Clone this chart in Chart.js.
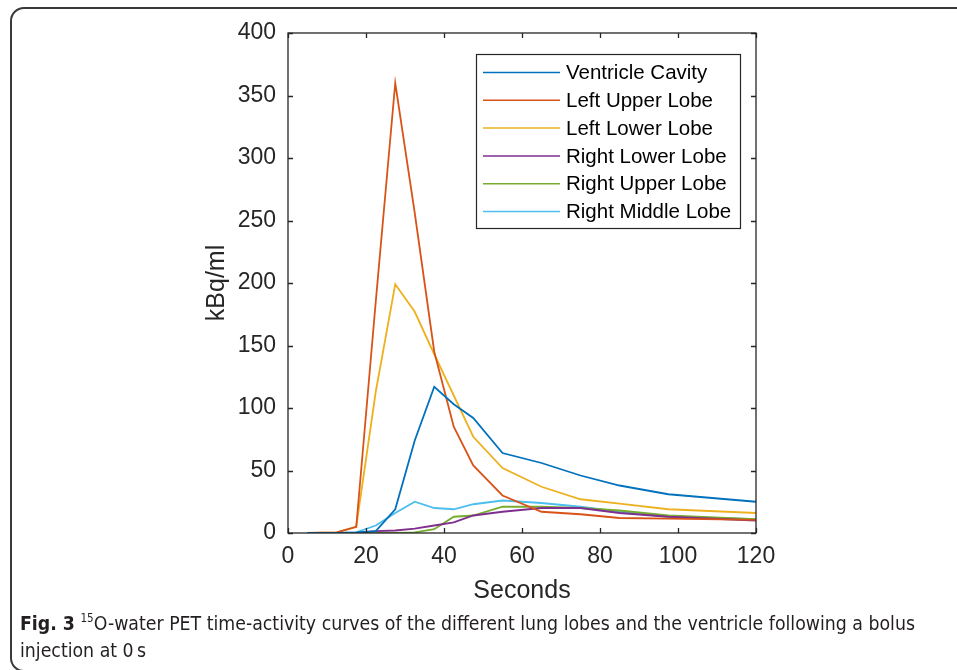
<!DOCTYPE html>
<html><head><meta charset="utf-8">
<script src="https://cdn.jsdelivr.net/npm/chart.js@4.4.1/dist/chart.umd.min.js"></script>
<style>
html,body{margin:0;padding:0;background:#fff;width:957px;height:670px;overflow:hidden;}
#wrap{position:relative;width:957px;height:670px;}
#c{position:absolute;left:0;top:0;}
#frame{position:absolute;left:10px;top:7px;width:1000px;height:665px;border:2px solid #3a3a3a;border-radius:14px;box-sizing:border-box;pointer-events:none;}
.cap{position:absolute;left:20px;font-family:"Liberation Sans Narrow","DejaVu Sans Condensed","Open Sans",sans-serif;font-size:20px;color:#231f20;white-space:nowrap;transform-origin:0 50%;line-height:24px;}
.cap sup{font-size:12px;vertical-align:0;position:relative;top:-8px;}
</style></head>
<body><div id="wrap">
<canvas id="c" width="957" height="670"></canvas>
<div id="frame"></div>
<div class="cap" id="cap1" style="top:611px;"><b>Fig. 3</b> <sup>15</sup>O-water PET time-activity curves of the different lung lobes and the ventricle following a bolus</div>
<div class="cap" id="cap2" style="top:638px;">injection at 0&#8201;s</div>
</div>
<script>
const timeSec = [5, 12.5, 17.5, 22.5, 27.5, 32.5, 37.5, 42.5, 47.5, 55, 65, 75, 85, 97.5, 120];
const ventricleCavity = [0, 0, 0.5, 1.5, 19, 74, 117, 103, 92, 64, 56, 46, 38, 31, 25];
const leftUpperLobe   = [0, 0.5, 5, 185, 360, 256, 145, 85, 54, 30, 17, 15, 12, 11.5, 10.5];
const leftLowerLobe   = [0, 0.5, 5, 113, 199, 177, 143, 110, 77, 52, 37, 27, 23.5, 19, 16];
const rightLowerLobe  = [0, 0, 0, 1.5, 2, 3.5, 6, 8.5, 14, 17, 20, 20, 16, 13, 10];
const rightUpperLobe  = [0, 0, 0, 0, 0, 0.5, 3, 13, 14, 21, 21, 20, 18, 14, 11];
const rightMiddleLobe = [0, 0, 0.5, 6, 16, 25, 20, 19, 23, 26, 24, 21, 17, 13, 11];
const seriesNames = ["Ventricle Cavity", "Left Upper Lobe", "Left Lower Lobe", "Right Lower Lobe", "Right Upper Lobe", "Right Middle Lobe"];
const seriesValues = [ventricleCavity, leftUpperLobe, leftLowerLobe, rightLowerLobe, rightUpperLobe, rightMiddleLobe];
const seriesColors = ["#0072BD", "#D95319", "#EDB120", "#7E2F8E", "#77AC30", "#4DBEEE"];
const xTickValues = [0, 20, 40, 60, 80, 100, 120];
const yTickValues = [0, 50, 100, 150, 200, 250, 300, 350, 400];

const AX = '#262626';
const FONT = '"Liberation Sans", Arial, sans-serif';

const boxPlugin = {
  id: 'boxPlugin',
  afterDatasetsDraw(chart) {
    const {ctx, chartArea: a, scales: {x, y}} = chart;
    ctx.save();
    ctx.strokeStyle = AX; ctx.lineWidth = 1.3;
    ctx.strokeRect(a.left, a.top, a.right - a.left, a.bottom - a.top);
    const L = 5;
    ctx.beginPath();
    x.ticks.forEach(t => {
      const p = Math.round(x.getPixelForValue(t.value)) + 0.5;
      ctx.moveTo(p, a.bottom); ctx.lineTo(p, a.bottom - L);
      ctx.moveTo(p, a.top); ctx.lineTo(p, a.top + L);
    });
    y.ticks.forEach(t => {
      const p = Math.round(y.getPixelForValue(t.value)) + 0.5;
      ctx.moveTo(a.left, p); ctx.lineTo(a.left + L, p);
      ctx.moveTo(a.right, p); ctx.lineTo(a.right - L, p);
    });
    ctx.stroke();
    // legend
    const lw = 264, lh = 174;
    const lx = a.right - 16 - lw, ly = a.top + 21;
    ctx.fillStyle = '#fff';
    ctx.fillRect(lx, ly, lw, lh);
    ctx.lineWidth = 1.2; ctx.strokeStyle = AX;
    ctx.strokeRect(lx + 0.5, ly + 0.5, lw, lh);
    ctx.font = '20.5px ' + FONT;
    ctx.textBaseline = 'middle'; ctx.textAlign = 'left';
    chart.data.datasets.forEach((ds, i) => {
      const ry = ly + 18.5 + i * 27.8;
      ctx.strokeStyle = ds.borderColor; ctx.lineWidth = 1.5;
      ctx.beginPath(); ctx.moveTo(lx + 7, ry); ctx.lineTo(lx + 84, ry); ctx.stroke();
      ctx.fillStyle = '#000';
      ctx.fillText(ds.label, lx + 90, ry + 1);
    });
    ctx.restore();
  }
};

new Chart(document.getElementById('c'), {
  type: 'line',
  data: {
    datasets: seriesNames.map((name, i) => ({
      label: name,
      data: timeSec.map((t, k) => ({x: t, y: seriesValues[i][k]})),
      borderColor: seriesColors[i],
      backgroundColor: seriesColors[i],
      borderWidth: 1.8,
      pointRadius: 0,
      tension: 0,
      fill: false
    }))
  },
  options: {
    responsive: false,
    devicePixelRatio: 1,
    animation: false,
    layout: {padding: {top: 33, right: 201, bottom: 0, left: 0}},
    plugins: {legend: {display: false}, tooltip: {enabled: false}},
    scales: {
      x: {
        type: 'linear', min: 0, max: 120,
        afterFit: s => { s.height = 137; },
        afterBuildTicks: s => { s.ticks = xTickValues.map(v => ({value: v})); },
        grid: {display: false, drawTicks: false},
        border: {display: false},
        ticks: {color: AX, font: {family: FONT, size: 23}, padding: 10, maxRotation: 0, autoSkip: false},
        title: {display: true, text: 'Seconds', color: AX, font: {family: FONT, size: 25}, padding: {top: 0, bottom: 64}}
      },
      y: {
        min: 0, max: 400,
        afterFit: s => { s.width = 288; },
        afterBuildTicks: s => { s.ticks = yTickValues.map(v => ({value: v})); },
        grid: {display: false, drawTicks: false},
        border: {display: false},
        ticks: {color: AX, font: {family: FONT, size: 23}, padding: 12, autoSkip: false},
        title: {display: true, text: 'kBq/ml', color: AX, font: {family: FONT, size: 25}, padding: {top: 202, bottom: 0}}
      }
    }
  },
  plugins: [boxPlugin]
});

// fit caption line to reference width
const c1 = document.getElementById('cap1');
const w = c1.getBoundingClientRect().width;
const sx = 895 / w;
c1.style.transform = 'scaleX(' + sx + ')';
document.getElementById('cap2').style.transform = 'scaleX(' + sx + ')';
</script>
</body></html>
